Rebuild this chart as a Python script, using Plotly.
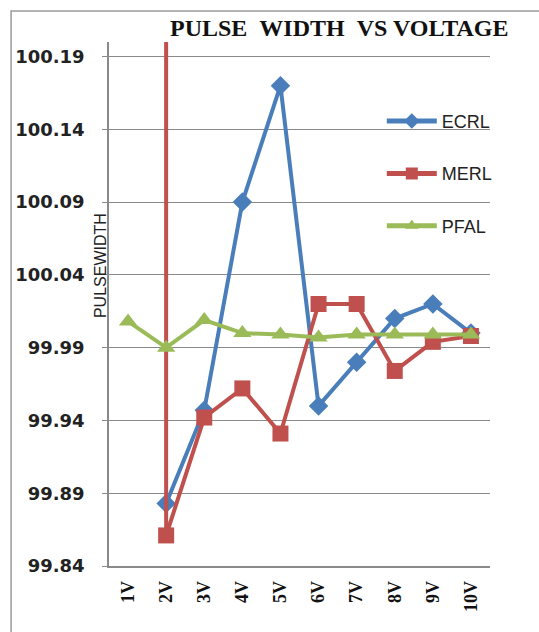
import plotly.graph_objects as go

voltages = ["1V", "2V", "3V", "4V", "5V", "6V", "7V", "8V", "9V", "10V"]
ecrl = [None, 99.883, 99.947, 100.09, 100.17, 99.95, 99.98, 100.01, 100.02, 100.00]
merl = [1000.0, 99.861, 99.942, 99.962, 99.931, 100.02, 100.02, 99.974, 99.994, 99.998]
pfal = [100.008, 99.99, 100.009, 100.0, 99.999, 99.997, 99.999, 99.999, 99.999, 99.999]
y_ticks = [99.84, 99.89, 99.94, 99.99, 100.04, 100.09, 100.14, 100.19]

BLUE = "#4A7EBB"
RED = "#C0504D"
GREEN = "#9BBB59"
GRID = "#8A8A8A"

fig = go.Figure()

series = [
    ("ECRL", ecrl, BLUE, "diamond", 15),
    ("MERL", merl, RED, "square", 16),
    ("PFAL", pfal, GREEN, "triangle-up", 16),
]
for name, vals, color, sym, size in series:
    fig.add_trace(go.Scatter(
        x=voltages, y=vals, name=name, mode="lines+markers",
        line=dict(color=color, width=4),
        marker=dict(symbol=sym, size=size, color=color),
        legendgroup=name,
        connectgaps=False,
    ))

fig.update_layout(
    width=539, height=632,
    margin=dict(l=109, r=49, t=42, b=66),
    plot_bgcolor="white", paper_bgcolor="white",
    showlegend=True,
    legend=dict(
        x=0.716, y=0.884, xanchor="left", yanchor="top",
        traceorder="grouped", tracegroupgap=26,
        itemwidth=50, itemsizing="constant",
        font=dict(family="Liberation Sans", size=18, color="#222"),
        bgcolor="rgba(0,0,0,0)",
    ),
    xaxis=dict(
        type="category", range=[-0.5, 9.5],
        showgrid=False, showline=True, linecolor=GRID, linewidth=1.5,
        ticks="", tickangle=-90,
        tickfont=dict(family="Liberation Serif", size=18, color="#111", weight="bold"),
        ticklabelstandoff=6,
    ),
    yaxis=dict(
        range=[99.84, 100.20], tickvals=y_ticks,
        ticktext=[f"{v:.2f}" for v in y_ticks],
        showgrid=True, gridcolor=GRID, gridwidth=1.3,
        showline=True, linecolor=GRID, linewidth=1.5,
        ticks="outside", ticklen=5, tickcolor=GRID,
        tickfont=dict(family="DejaVu Sans", size=18, color="#222", weight="bold"),
        ticklabelstandoff=14,
        zeroline=False,
    ),
    annotations=[
        dict(text="<b>PULSE\u00a0\u00a0WIDTH\u00a0\u00a0VS VOLTAGE</b>",
             xref="paper", yref="paper", x=0.606, y=1.027,
             xanchor="center", yanchor="middle", showarrow=False,
             font=dict(family="Liberation Serif", size=24, color="#111")),
        dict(text="PULSEWIDTH", textangle=-90,
             xref="paper", yref="paper", x=-0.024, y=0.574,
             xanchor="center", yanchor="middle", showarrow=False,
             font=dict(family="Liberation Sans", size=16, color="#222")),
    ],
    shapes=[
        dict(type="rect", xref="paper", yref="paper",
             x0=-0.257, y0=-0.3, x1=1.3, y1=1.059,
             line=dict(color="#9A9A9A", width=1.5), layer="below"),
    ],
)

fig.write_html("out.html")
